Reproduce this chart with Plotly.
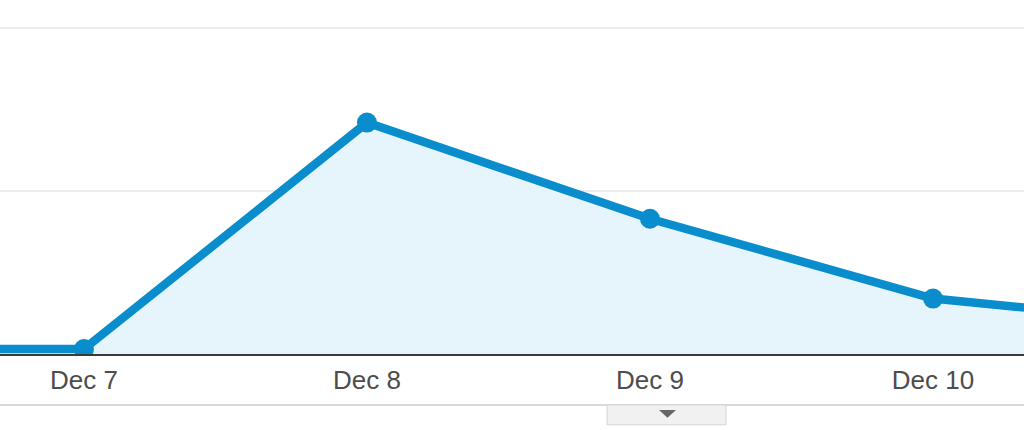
import plotly.graph_objects as go

# daily values (no y labels shown, gridlines at 10 and 20)
dates = ['2013-12-06', '2013-12-07', '2013-12-08', '2013-12-09', '2013-12-10', '2013-12-11']
visits = [0.3, 0.3, 14.2, 8.3, 3.4, 1.7]
tick_dates = ['2013-12-07', '2013-12-08', '2013-12-09', '2013-12-10']
tick_text = ['Dec 7', 'Dec 8', 'Dec 9', 'Dec 10']

blue = '#0a8dcd'

fig = go.Figure()
fig.add_trace(go.Scatter(x=dates, y=visits, mode='lines+markers', fill='tozeroy',
                         fillcolor='#e6f4fb', line=dict(color=blue, width=8.5),
                         marker=dict(color=blue, size=20), hoverinfo='skip'))

fig.update_xaxes(range=['2013-12-06 16:53', '2013-12-10 07:43'], tickvals=tick_dates, ticktext=tick_text,
                 showgrid=False, showline=True, linecolor='#3a3a3a', linewidth=2, ticks='',
                 ticklabelstandoff=2, tickfont=dict(size=26, color='#4d4d4d'), zeroline=False)
fig.update_yaxes(range=[0, 21.72], dtick=10, showticklabels=False, gridcolor='#ececec', gridwidth=2,
                 zeroline=False, showline=False)

# bottom separator and the little toggle button
fig.add_shape(type='line', xref='paper', yref='paper', x0=0, x1=1, y0=-0.144, y1=-0.144,
              line=dict(color='#d9d9d9', width=2))
fig.add_shape(type='rect', xref='paper', yref='paper', x0=607/1024, x1=726/1024, y0=-0.144, y1=-0.2,
              fillcolor='#f1f1f1', line=dict(color='#d4d4d4', width=1))
fig.add_shape(type='path', xref='paper', yref='paper',
              path='M %f,%f L %f,%f L %f,%f Z' % (659/1024, -0.158, 676/1024, -0.158, 667.5/1024, -0.18),
              fillcolor='#666666', line=dict(width=0))

fig.update_layout(width=1024, height=430, margin=dict(l=0, r=0, t=0, b=76),
                  paper_bgcolor='white', plot_bgcolor='white', showlegend=False,
                  font=dict(family='Arial, Liberation Sans, sans-serif'))

# page has a default 8px body margin, drop it so the chart sits flush
fig.write_html('out.html', config={'displayModeBar': False},
               post_script="document.body.style.margin='0';")
